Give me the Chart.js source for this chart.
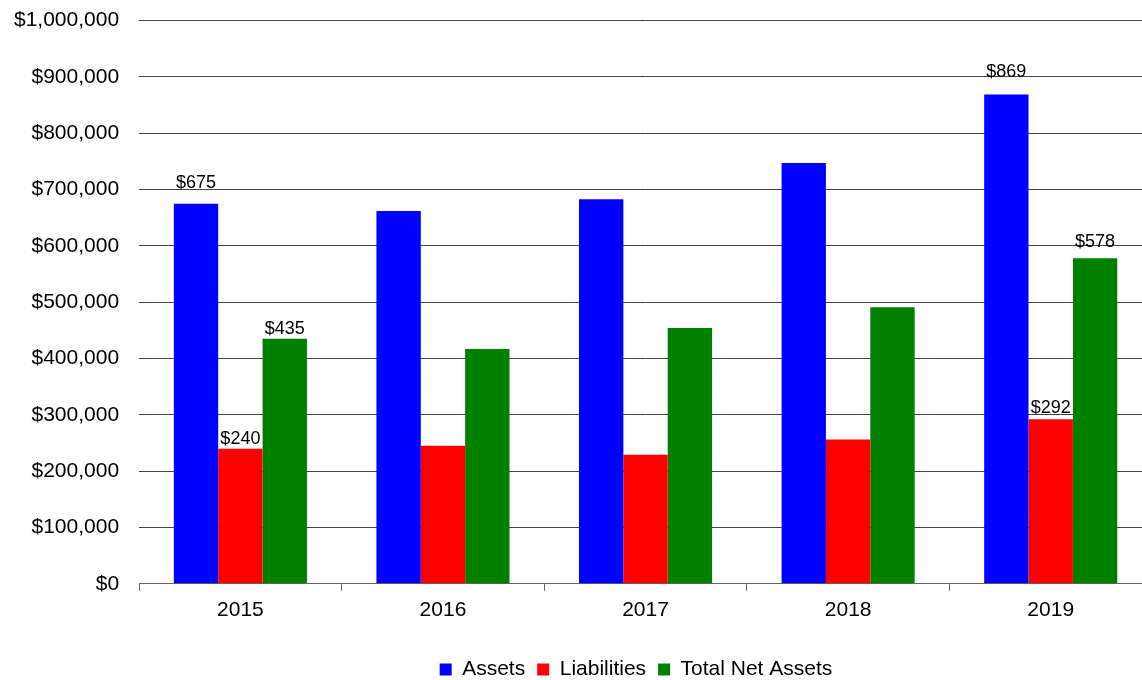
<!DOCTYPE html>
<html>
<head>
<meta charset="utf-8">
<script src="https://cdn.jsdelivr.net/npm/chart.js@4.4.1/dist/chart.umd.min.js"></script>
<style>
  html, body { margin: 0; padding: 0; background: #fff; overflow: hidden; width: 1142px; height: 680px; }
  #wrap { position: absolute; left: -6px; top: -12px; width: 1160px; height: 704px; }
</style>
</head>
<body>
<div id="wrap"><canvas id="c" width="1160" height="704"></canvas></div>
<script>
const years = ["2015", "2016", "2017", "2018", "2019"];
const assets = [675000, 662000, 683000, 747000, 869000];
const liabilities = [240000, 245000, 229000, 256000, 292000];
const netAssets = [435000, 417000, 454000, 491000, 578000];
// data labels (in thousands) shown only on some bars
const assetLabels = ["$675", null, null, null, "$869"];
const liabilityLabels = ["$240", null, null, null, "$292"];
const netLabels = ["$435", null, null, null, "$578"];

const labelGaps = [[16, 0, 0, 0, 17], [5, 0, 0, 0, 6], [5, 0, 0, 0, 11]];

const FONT = "'Liberation Sans', Arial, sans-serif";

const barLabels = {
  id: 'barLabels',
  afterDatasetsDraw(chart) {
    const ctx = chart.ctx;
    ctx.save();
    ctx.font = "18px " + FONT;
    ctx.fillStyle = "#000";
    ctx.textAlign = "center";
    ctx.textBaseline = "alphabetic";
    chart.data.datasets.forEach((ds, di) => {
      const meta = chart.getDatasetMeta(di);
      meta.data.forEach((bar, i) => {
        const t = ds.valueLabels[i];
        if (!t) return;
        ctx.fillText(t, bar.x, bar.y - labelGaps[di][i]);
      });
    });
    ctx.restore();
  }
};

// the reference legend sits right of the page centre
const legendShift = {
  id: 'legendShift',
  afterLayout(chart) {
    if (chart.legend) {
      chart.legend.left += 63;
      chart.legend.right += 63;
    }
  }
};

new Chart(document.getElementById('c'), {
  type: 'bar',
  data: {
    labels: years,
    datasets: [
      { label: 'Assets', data: assets, backgroundColor: '#0000FF', valueLabels: assetLabels },
      { label: 'Liabilities', data: liabilities, backgroundColor: '#FF0000', valueLabels: liabilityLabels },
      { label: 'Total Net Assets', data: netAssets, backgroundColor: '#008000', valueLabels: netLabels }
    ]
  },
  options: {
    responsive: false,
    animation: false,
    layout: { padding: { top: 0, left: 0, right: 2, bottom: 2 } },
    datasets: { bar: { barPercentage: 1, categoryPercentage: 0.657 } },
    scales: {
      x: {
        afterFit(scale) { scale.height += 17; },
        grid: { display: true, drawOnChartArea: false, offset: true, color: '#666', tickLength: 7 },
        border: { display: true, color: '#666', width: 1 },
        ticks: { color: '#000', font: { family: FONT, size: 21 }, padding: 7 }
      },
      y: {
        min: 0, max: 1000000,
        grid: { color: '#444', drawTicks: false, lineWidth: 1 },
        border: { display: false },
        ticks: {
          stepSize: 100000,
          color: '#000',
          padding: 20,
          font: { family: FONT, size: 21 },
          callback: v => '$' + v.toLocaleString('en-US')
        }
      }
    },
    plugins: {
      legend: {
        position: 'bottom',
        labels: {
          color: '#000',
          font: { family: FONT, size: 21 },
          boxWidth: 12, boxHeight: 12,
          padding: 12
        }
      },
      tooltip: { enabled: false }
    }
  },
  plugins: [barLabels, legendShift]
});
</script>
</body>
</html>
